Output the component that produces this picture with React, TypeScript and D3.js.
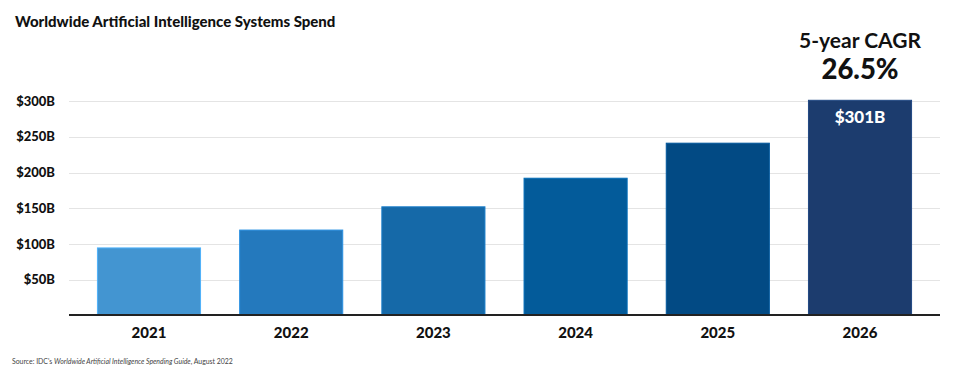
import React, { useEffect, useRef } from "react";
import * as d3 from "d3";

const years = ["2021", "2022", "2023", "2024", "2025", "2026"];
const spend = [94.5, 119.5, 152, 192, 241, 301];
const barColors = ["#4395d1", "#2479bd", "#1569a8", "#035b9a", "#024a84", "#1c3c6e"];
const yTicks = [50, 100, 150, 200, 250, 300];

const W = 953;
const H = 371;
const font = "Lato, 'Open Sans', sans-serif";

export default function App() {
  const ref = useRef<SVGSVGElement | null>(null);

  useEffect(() => {
    const svg = d3.select(ref.current);
    svg.selectAll("*").remove();

    const x = d3.scaleBand().domain(years).range([69, 940]).paddingInner(0.275).paddingOuter(0.2);
    const y = d3.scaleLinear().domain([0, 300]).range([315.5, 101]);

    svg.append("rect").attr("width", W).attr("height", H).attr("fill", "#fff");

    // title
    svg.append("text")
      .attr("x", 15).attr("y", 27)
      .attr("font-family", font).attr("font-weight", 900).attr("font-size", 15)
      .attr("fill", "#111")
      .text("Worldwide Artificial Intelligence Systems Spend");

    // gridlines
    svg.append("g").selectAll("line").data(yTicks).join("line")
      .attr("x1", 69).attr("x2", 940)
      .attr("y1", d => Math.round(y(d)) + 0.5).attr("y2", d => Math.round(y(d)) + 0.5)
      .attr("stroke", "#e4e4e4").attr("stroke-width", 1);

    svg.append("g").selectAll("text").data(yTicks).join("text")
      .attr("x", 55).attr("y", d => y(d)).attr("dy", "0.35em")
      .attr("text-anchor", "end")
      .attr("font-family", font).attr("font-weight", 900).attr("font-size", 13)
      .attr("fill", "#111")
      .text(d => `$${d}B`);

    // bars
    svg.append("g").selectAll("rect").data(spend).join("rect")
      .attr("x", (_, i) => x(years[i])!)
      .attr("width", x.bandwidth())
      .attr("y", d => y(d))
      .attr("height", d => y(0) - y(d))
      .attr("fill", (_, i) => barColors[i])
      .attr("stroke", (_, i) => d3.color(barColors[i])!.brighter(0.5).toString())
      .attr("stroke-width", 1);

    // baseline
    svg.append("line")
      .attr("x1", 69).attr("x2", 940).attr("y1", 315).attr("y2", 315)
      .attr("stroke", "#222").attr("stroke-width", 2);

    // year labels
    svg.append("g").selectAll("text").data(years).join("text")
      .attr("x", d => x(d)! + x.bandwidth() / 2).attr("y", 338)
      .attr("text-anchor", "middle")
      .attr("font-family", font).attr("font-weight", 900).attr("font-size", 15)
      .attr("fill", "#111")
      .text(d => d);

    // value label in last bar
    const last = years.length - 1;
    const cx = x(years[last])! + x.bandwidth() / 2;
    svg.append("text")
      .attr("x", cx).attr("y", y(spend[last]) + 23)
      .attr("text-anchor", "middle")
      .attr("font-family", font).attr("font-weight", 900).attr("font-size", 17)
      .attr("fill", "#fff")
      .text(`$${spend[last]}B`);

    // CAGR annotation
    svg.append("text")
      .attr("x", cx).attr("y", 48)
      .attr("text-anchor", "middle")
      .attr("font-family", font).attr("font-weight", 700).attr("font-size", 21)
      .attr("fill", "#111")
      .text("5-year CAGR");
    svg.append("text")
      .attr("x", cx).attr("y", 79)
      .attr("text-anchor", "middle")
      .attr("font-family", font).attr("font-weight", 900).attr("font-size", 27.5)
      .attr("fill", "#111")
      .text("26.5%");

    // source
    const src = svg.append("text")
      .attr("x", 12).attr("y", 364)
      .attr("font-family", font).attr("font-size", 6.9)
      .attr("fill", "#444");
    src.append("tspan").text("Source: IDC's ");
    src.append("tspan").attr("font-style", "italic").text("Worldwide Artificial Intelligence Spending Guide");
    src.append("tspan").text(", August 2022");
  }, []);

  return (
    <div style={{ position: "absolute", left: 0, top: 0 }}>
      <svg ref={ref} width={W} height={H} style={{ display: "block" }} />
    </div>
  );
}
